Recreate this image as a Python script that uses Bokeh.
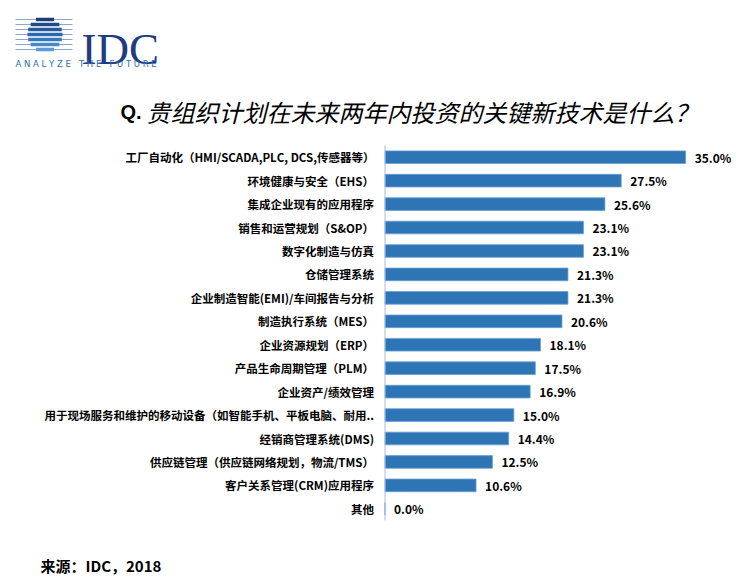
import math
from bokeh.plotting import figure
from bokeh.models import Range1d, ColumnDataSource
from bokeh.core.properties import value
from bokeh.embed import file_html
from bokeh.resources import INLINE

# ---------------- data ----------------
categories = [
    "工厂自动化（HMI/SCADA,PLC, DCS,传感器等）",
    "环境健康与安全（EHS）",
    "集成企业现有的应用程序",
    "销售和运营规划（S&OP）",
    "数字化制造与仿真",
    "仓储管理系统",
    "企业制造智能(EMI)/车间报告与分析",
    "制造执行系统（MES）",
    "企业资源规划（ERP）",
    "产品生命周期管理（PLM）",
    "企业资产/绩效管理",
    "用于现场服务和维护的移动设备（如智能手机、平板电脑、耐用..",
    "经销商管理系统(DMS)",
    "供应链管理（供应链网络规划，物流/TMS）",
    "客户关系管理(CRM)应用程序",
    "其他",
]
values = [35.0, 27.5, 25.6, 23.1, 23.1, 21.3, 21.3, 20.6, 18.1, 17.5, 16.9, 15.0, 14.4, 12.5, 10.6, 0.0]
value_labels = ["%.1f%%" % v for v in values]

title_q = "Q."
title_text = "贵组织计划在未来两年内投资的关键新技术是什么？"
source_text = "来源：IDC，2018"
logo_text = "IDC"
NB = "\u00a0"
logo_tagline = NB.join("ANALYZE") + NB * 3 + NB.join("THE") + NB * 3 + NB.join("FUTURE")

W, H = 742, 585
CJK = "Noto Sans CJK SC"
BAR_COLOR = "#2E75B6"

# geometry of the plotting region (canvas pixels)
AX_X = 384.5          # x pixel of the value 0
PX_PER_PCT = 8.59     # pixels per percentage point
ROW_TOP = 145.0       # top of first row band
ROW_H = 23.44         # row pitch

x0 = -AX_X / PX_PER_PCT
x1 = x0 + W / PX_PER_PCT
y_top = -0.5 - ROW_TOP / ROW_H
y_bot = y_top + H / ROW_H

p = figure(width=W, height=H, x_range=Range1d(x0, x1), y_range=Range1d(y_bot, y_top),
           output_backend="svg", toolbar_location=None,
           x_axis_location=None, y_axis_location=None)
# pixel-like coordinate system for the decorations (header / footer)
p.extra_x_ranges = {"px": Range1d(-8, W - 8)}
p.extra_y_ranges = {"px": Range1d(H - 8, -8)}
p.xgrid.visible = False
p.ygrid.visible = False
p.outline_line_color = None
p.background_fill_color = "white"
p.border_fill_color = "white"
p.min_border = 0

# ---------------- bars ----------------
idx = list(range(len(categories)))
src = ColumnDataSource(dict(i=idx, cat=categories, val=values, lab=value_labels,
                            zero=[0.0] * len(values)))
p.hbar(y="i", right="val", left=0, height=0.54, source=src, fill_color=BAR_COLOR,
       line_color="#6A9FD4", line_width=0.8)
p.text(x="val", y="i", text="lab", source=src, x_offset=9, text_font=value(CJK),
       text_font_style="bold", text_font_size="12px", text_color="black",
       text_baseline="middle", text_align="left")
p.text(x="zero", y="i", text="cat", source=src, x_offset=-11, text_font=value(CJK),
       text_font_style="bold", text_font_size="11.5px", text_color="black",
       text_baseline="middle", text_align="right")
# category axis line
p.segment(x0=[0], x1=[0], y0=[-0.5], y1=[len(categories) - 0.5],
          line_color="#A9BCE6", line_width=1)

# ---------------- header: logo ----------------
cx, cy, r = 36.5, 26.0, 17.5
band_colors = ["#1B3C78", "#1F4A8A", "#24589C", "#2A67AE", "#3478BE", "#4589CC", "#5A9CD8"]
nb = len(band_colors)
pitch = 2 * r / nb
ys, lefts, rights = [], [], []
for k in range(nb):
    yc = cy - r + pitch * (k + 0.5)
    dy = abs(yc - cy)
    hw = math.sqrt(max(r * r - dy * dy, 0))
    ys.append(yc)
    lefts.append(cx - hw)
    rights.append(cx + hw)
p.segment(x0=[7] * nb, x1=[64] * nb, y0=ys, y1=ys, line_color="#8FA6C6", line_width=1,
          x_range_name="px", y_range_name="px")
p.hbar(y=ys, left=lefts, right=rights, height=pitch * 0.68, fill_color=band_colors,
       line_color=None, x_range_name="px", y_range_name="px")

p.text(x=[73], y=[40], text=[logo_text], text_font=value("Liberation Serif"),
       text_font_size="45px", text_color="#1F3C7C", text_baseline="alphabetic",
       text_align="left", x_range_name="px", y_range_name="px")
p.text(x=[7], y=[55], text=[logo_tagline], text_font=value("DejaVu Sans"),
       text_font_size="8.5px", text_color="#2D6DB5", text_baseline="middle",
       text_align="left", x_range_name="px", y_range_name="px")

# ---------------- header: title ----------------
p.text(x=[112], y=[103], text=[title_q], text_font=value("Liberation Sans"),
       text_font_style="bold", text_font_size="20px", text_color="black",
       text_baseline="middle", text_align="left", x_range_name="px", y_range_name="px")
p.text(x=[138], y=[103], text=[title_text], text_font=value(CJK),
       text_font_style="italic", text_font_size="24px", text_color="black",
       text_baseline="middle", text_align="left", x_range_name="px", y_range_name="px")

# ---------------- footer ----------------
p.text(x=[32], y=[557], text=[source_text], text_font=value(CJK),
       text_font_style="bold", text_font_size="15px", text_color="black",
       text_baseline="middle", text_align="left", x_range_name="px", y_range_name="px")

open("out.html", "w").write(file_html(p, INLINE))
